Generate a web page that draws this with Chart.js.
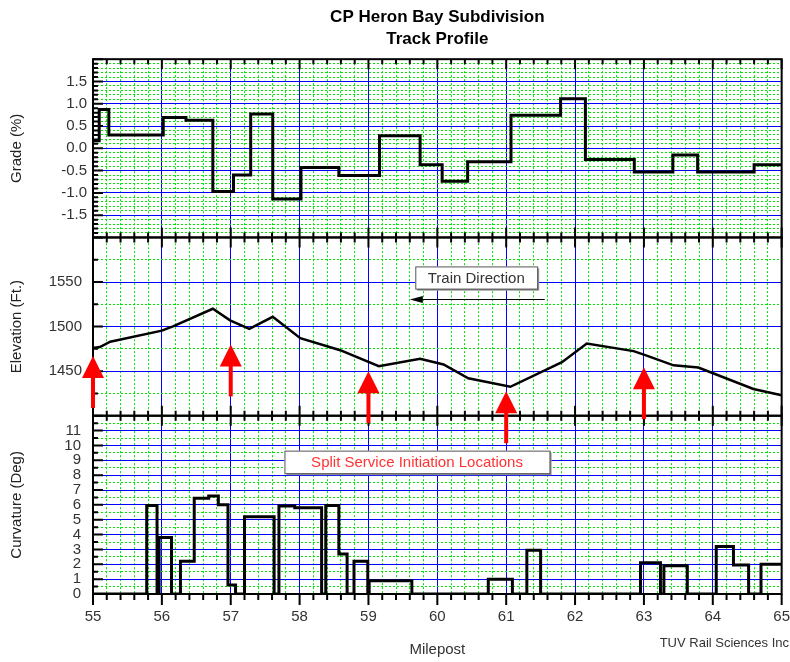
<!DOCTYPE html>
<html>
<head>
<meta charset="utf-8">
<title>CP Heron Bay Subdivision - Track Profile</title>
<script src="https://cdn.jsdelivr.net/npm/chart.js@4.4.1/dist/chart.umd.min.js"></script>
<style>
  html, body { margin: 0; padding: 0; background: #fff; overflow: hidden; }
  #wrap { position: relative; width: 790px; height: 662px; }
  #profile { display: block; }
</style>
</head>
<body>
<div id="wrap"><canvas id="profile"></canvas></div>
<script>
// Grade: milepost where each grade starts, grade in %
const gradeMile = [55.0, 55.09, 55.23, 56.02, 56.35, 56.74, 57.04, 57.29, 57.61, 58.02, 58.57, 59.16,
  59.75, 60.07, 60.44, 61.07, 61.79, 62.15, 62.86, 63.42, 63.78, 64.6, 65.0];
const gradePct = [0.17, 0.87, 0.3, 0.69, 0.63, -0.97, -0.6, 0.77, -1.14, -0.43, -0.61, 0.28,
  -0.37, -0.74, -0.3, 0.74, 1.11, -0.25, -0.53, -0.15, -0.53, -0.37, -0.37];

// Elevation breakpoints (ft)
const elevMile = [55.0, 55.1, 55.25, 56.0, 56.17, 56.74, 56.99, 57.27, 57.61, 58.01, 58.59, 59.15,
  59.75, 60.09, 60.45, 61.06, 61.81, 62.17, 62.85, 63.02, 63.43, 63.79, 64.59, 65.0];
const elevFt = [1476, 1477, 1483, 1495.5, 1500.5, 1520, 1507, 1497.5, 1511, 1487, 1473.5, 1455.5,
  1464, 1457.5, 1442, 1432.5, 1460, 1481, 1472.5, 1468, 1456.5, 1454, 1430, 1423];

// Curvature: milepost where each value starts, degrees
const curveMile = [55.0, 55.78, 55.93, 55.96, 56.14, 56.27, 56.47, 56.68, 56.82, 56.96, 57.07, 57.2,
  57.63, 57.7, 57.93, 58.32, 58.38, 58.57, 58.69, 58.79, 58.99, 59.01, 59.63, 60.74, 61.09, 61.3,
  61.5, 62.95, 63.24, 63.29, 63.63, 64.05, 64.3, 64.52, 64.7, 65.0];
const curveDeg = [0, 5.95, 0, 3.8, 0, 2.2, 6.45, 6.6, 6.0, 0.6, 0, 5.2,
  0, 5.93, 5.8, 0, 5.95, 2.7, 0, 2.2, 0, 0.9, 0, 1.0, 0, 2.95,
  0, 2.1, 0, 1.9, 0, 3.2, 1.95, 0, 2.0, 2.0];

// Split service initiation locations (arrow tips on the elevation panel)
const splitMile = [55, 57, 59, 61, 63];
const splitElev = [1467, 1480, 1450, 1427.5, 1454.5];

const FONT = "'Liberation Sans', Arial, sans-serif";
const BLUE = '#0000ff';
const GREEN = '#00e600';

function pts(xs, ys) {
  return xs.map((x, i) => ({ x: x, y: ys[i] }));
}

function majorY(min, max, step, title, weight, pad, hidden, fmt) {
  return {
    type: 'linear', position: 'left', stack: 'panels', weight: weight,
    min: min, max: max,
    ticks: {
      stepSize: step, autoSkip: false, padding: pad, color: '#333',
      font: { family: FONT, size: 15 },
      callback: v => hidden.includes(v) ? '' : fmt(v)
    },
    grid: { color: BLUE, lineWidth: 1, drawTicks: false },
    border: { display: false },
    title: { display: true, text: title, color: '#222', font: { family: FONT, size: 15 }, padding: { top: 8, bottom: 0 } },
    afterFit: s => { s.width = 93; }
  };
}

function minorY(min, max, step, weight) {
  return {
    type: 'linear', position: 'left', stack: 'minor', weight: weight, display: true,
    min: min, max: max,
    ticks: { stepSize: step, display: false },
    grid: { color: GREEN, lineWidth: 1, drawTicks: false, z: -1 },
    border: { display: false, dash: [2, 2] },
    afterFit: s => { s.width = 0; }
  };
}

// ticks, frames, arrows and notes drawn over the chart
const decorations = {
  id: 'decorations',
  afterDraw(chart) {
    const { ctx, scales } = chart;
    const x = scales.x, xm = scales.xMinor;
    const L = chart.chartArea.left;
    const panels = [['yG', 'yGm'], ['yE', 'yEm'], ['yC', 'yCm']];
    ctx.save();

    // tick marks
    ctx.strokeStyle = '#000';
    ctx.lineWidth = 2;
    ctx.beginPath();
    panels.forEach(([maj, mnr], i) => {
      const top = scales[maj].top, bot = scales[maj].bottom;
      scales[mnr].ticks.forEach(t => {
        const y = scales[mnr].getPixelForValue(t.value);
        ctx.moveTo(L, y); ctx.lineTo(L + 5, y);
      });
      scales[maj].ticks.forEach(t => {
        const y = scales[maj].getPixelForValue(t.value);
        ctx.moveTo(L, y); ctx.lineTo(L + 10, y);
      });
      const last = i === panels.length - 1;
      [[xm, 5], [x, 10]].forEach(([sc, len]) => {
        sc.ticks.forEach(t => {
          const px = sc.getPixelForValue(t.value);
          ctx.moveTo(px, top); ctx.lineTo(px, top + len);
          ctx.moveTo(px, bot); ctx.lineTo(px, last ? bot + len + 1 : bot - len);
        });
      });
    });
    ctx.stroke();

    // panel frames
    panels.forEach(([maj]) => {
      const s = scales[maj];
      ctx.strokeRect(L, s.top, chart.chartArea.right - L, s.bottom - s.top);
    });

    // split service arrows
    const yE = scales.yE, yC = scales.yC;
    ctx.fillStyle = '#ff0000';
    splitMile.forEach((m, i) => {
      const px = x.getPixelForValue(m), py = yE.getPixelForValue(splitElev[i]);
      ctx.beginPath();
      ctx.moveTo(px, py);
      ctx.lineTo(px - 11, py + 22);
      ctx.lineTo(px + 11, py + 22);
      ctx.closePath();
      ctx.fill();
      ctx.fillRect(px - 2, py + 20, 4, 32);
    });

    // note boxes
    function noteBox(x0, x1, y0, y1, ys, text, color) {
      const l = x.getPixelForValue(x0), r = x.getPixelForValue(x1);
      const t = ys.getPixelForValue(y0), b = ys.getPixelForValue(y1);
      ctx.fillStyle = '#999';
      ctx.fillRect(l + 2, t + 2, r - l, b - t);
      ctx.fillStyle = '#fff';
      ctx.fillRect(l, t, r - l, b - t);
      ctx.strokeStyle = '#555';
      ctx.lineWidth = 1;
      ctx.strokeRect(l + 0.5, t + 0.5, r - l, b - t);
      ctx.fillStyle = color;
      ctx.font = '15px ' + FONT;
      ctx.textAlign = 'center';
      ctx.textBaseline = 'middle';
      ctx.fillText(text, (l + r) / 2, (t + b) / 2 + 1);
    }
    noteBox(59.68, 61.45, 1567.5, 1542.5, yE, 'Train Direction', '#333');
    noteBox(57.78, 61.63, 9.65, 8.13, yC, 'Split Service Initiation Locations', '#ff3333');

    // train direction arrow
    const ay = Math.round(yE.getPixelForValue(1531)) + 0.5;
    const ax0 = x.getPixelForValue(59.6), ax1 = x.getPixelForValue(61.56);
    ctx.strokeStyle = '#000';
    ctx.lineWidth = 1;
    ctx.beginPath();
    ctx.moveTo(ax1, ay); ctx.lineTo(ax0 + 10, ay);
    ctx.stroke();
    ctx.fillStyle = '#000';
    ctx.beginPath();
    ctx.moveTo(ax0, ay); ctx.lineTo(ax0 + 13, ay - 3.5); ctx.lineTo(ax0 + 13, ay + 3.5);
    ctx.closePath();
    ctx.fill();

    // credit
    ctx.fillStyle = '#333';
    ctx.font = '13px ' + FONT;
    ctx.textAlign = 'right';
    ctx.textBaseline = 'middle';
    ctx.fillText('TUV Rail Sciences Inc', 789, 643);
    ctx.restore();
  }
};

new Chart(document.getElementById('profile'), {
  type: 'line',
  data: {
    datasets: [
      { label: 'Grade', data: pts(gradeMile, gradePct), xAxisID: 'x', yAxisID: 'yG', stepped: true,
        borderColor: '#000', borderWidth: 3, pointRadius: 0, borderJoinStyle: 'miter' },
      { label: 'Elevation', data: pts(elevMile, elevFt), xAxisID: 'x', yAxisID: 'yE',
        borderColor: '#000', borderWidth: 2.5, pointRadius: 0, tension: 0 },
      { label: 'Curvature', data: pts(curveMile, curveDeg), xAxisID: 'x', yAxisID: 'yC', stepped: true,
        borderColor: '#000', borderWidth: 3, pointRadius: 0, borderJoinStyle: 'miter' }
    ]
  },
  options: {
    responsive: true,
    maintainAspectRatio: false,
    devicePixelRatio: 1,
    animation: false,
    events: [],
    layout: { padding: { left: 0, right: 8, top: 0, bottom: 0 } },
    plugins: {
      legend: { display: false },
      tooltip: { enabled: false },
      title: {
        display: true, fullSize: false,
        text: ['CP Heron Bay Subdivision', 'Track Profile'],
        color: '#000',
        font: { family: FONT, size: 17, weight: 'bold', lineHeight: 1.27 },
        padding: { top: 7, bottom: 9 }
      }
    },
    scales: {
      xMinor: {
        type: 'linear', position: 'bottom', min: 55, max: 65, display: true,
        ticks: { stepSize: 0.2, display: false },
        grid: { color: GREEN, drawTicks: false, z: -1 },
        border: { display: false, dash: [2, 2] },
        afterFit: s => { s.height = 0; }
      },
      x: {
        type: 'linear', position: 'bottom', min: 55, max: 65,
        ticks: { stepSize: 1, autoSkip: false, maxRotation: 0, padding: 0, color: '#333',
          font: { family: FONT, size: 15, lineHeight: '46px' } },
        grid: { color: BLUE, drawTicks: false },
        border: { display: false },
        title: { display: true, text: 'Milepost', color: '#333', font: { family: FONT, size: 15 }, padding: { top: 0, bottom: 3 } },
        afterFit: s => { s.height = 68; }
      },
      yGm: minorY(-2, 2, 0.1, 3),
      yEm: minorY(1400, 1600, 25, 2),
      yCm: minorY(0, 12, 0.5, 1),
      yG: majorY(-2, 2, 0.5, 'Grade (%)', 3, 6, [-2, 2], v => v.toFixed(1)),
      yE: majorY(1400, 1600, 50, 'Elevation (Ft.)', 2, 11, [1400, 1600], v => String(v)),
      yC: majorY(0, 12, 1, 'Curvature (Deg)', 1, 12, [12], v => String(v))
    }
  },
  plugins: [decorations]
});
</script>
</body>
</html>
